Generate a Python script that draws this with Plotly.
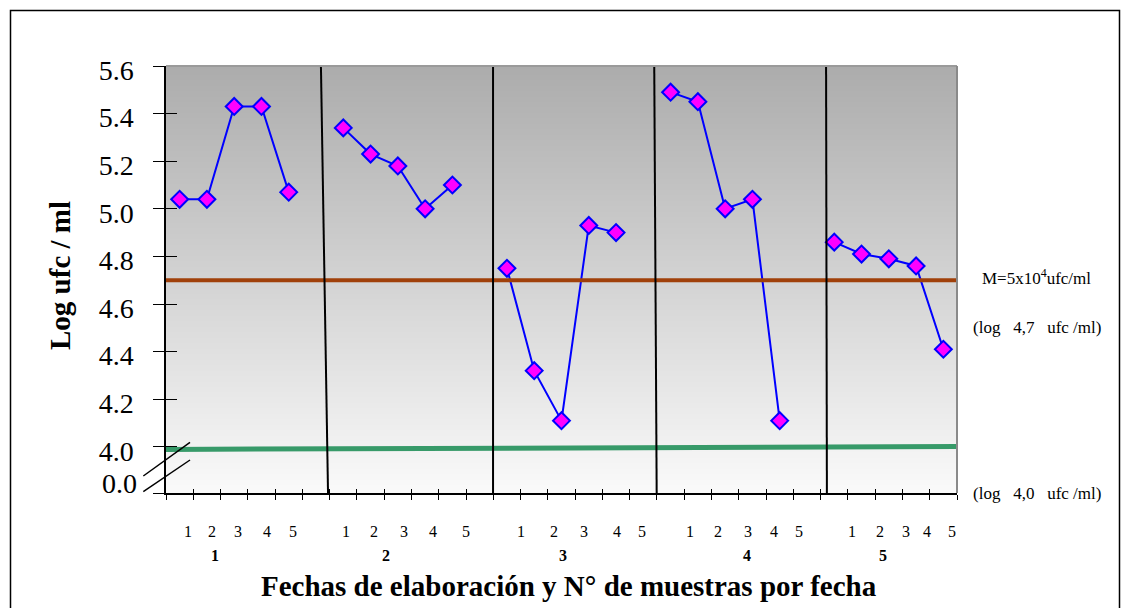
import numpy as np
import plotly.graph_objects as go

# ---------------- data ----------------
fechas = ["1", "2", "3", "4", "5"]
muestras = ["1", "2", "3", "4", "5"]
fecha1 = [5.04, 5.04, 5.43, 5.43, 5.07]
fecha2 = [5.34, 5.23, 5.18, 5.00, 5.10]
fecha3 = [4.75, 4.32, 4.11, 4.93, 4.90]
fecha4 = [5.49, 5.45, 5.00, 5.04, 4.11]
fecha5 = [4.86, 4.81, 4.79, 4.76, 4.41]
limite_M = 4.7      # log 4,7 ufc/ml
limite_m = 4.0      # log 4,0 ufc/ml
y_ticks = [4.0, 4.2, 4.4, 4.6, 4.8, 5.0, 5.2, 5.4, 5.6]
y_ticktext = ["4.0", "4.2", "4.4", "4.6", "4.8", "5.0", "5.2", "5.4", "5.6"]

# ---------------- layout constants ----------------
W, H = 1122, 608
L, R, T, B = 166, 1122 - 957, 66, 608 - 493
PW, PH = W - L - R, H - T - B
Y_BOTTOM = 3.806          # value at the broken axis bottom ("0.0")
Y_TOP = 5.6
GROUP_SIZE = 6            # 5 samples + 1 blank slot
NCAT = 29
FONT = "Liberation Serif, Times New Roman, serif"
NB = "\u00a0"


def px_x(p):
    return (p - L) / PW


def px_y(p):
    return (H - B - p) / PH


series = [fecha1, fecha2, fecha3, fecha4, fecha5]
xs, ys = [], []
for g, vals in enumerate(series):
    for s, v in enumerate(vals):
        xs.append(g * GROUP_SIZE + s)
        ys.append(v)
    if g < len(series) - 1:
        xs.append(g * GROUP_SIZE + 5)
        ys.append(None)

fig = go.Figure()

# background gradient (grey top -> white bottom)
gy = np.linspace(3.7, 5.7, 160)
fig.add_trace(go.Heatmap(
    x=[-0.5, NCAT - 0.5], y=gy, z=[[v, v] for v in gy],
    zmin=Y_BOTTOM, zmax=Y_TOP, zsmooth="best",
    colorscale=[[0, "#fafafa"], [1, "#acacac"]],
    showscale=False, hoverinfo="skip"))

# dummy trace on overlay axes (inside ticks)
fig.add_trace(go.Scatter(x=[0], y=[5], xaxis="x2", yaxis="y2",
                         mode="markers", marker=dict(opacity=0),
                         hoverinfo="skip", showlegend=False))

# data line
fig.add_trace(go.Scatter(
    x=xs, y=ys, mode="lines+markers", connectgaps=False,
    line=dict(color="#0000ff", width=2),
    marker=dict(symbol="diamond", size=13, color="#ff00ff",
                line=dict(color="#0000ff", width=2)),
    showlegend=False))

shapes = []
# limit lines
shapes.append(dict(type="line", xref="x", yref="y", x0=-0.5, x1=NCAT - 0.5,
                   y0=limite_M, y1=limite_M,
                   line=dict(color="#a0400a", width=4)))
shapes.append(dict(type="line", xref="x", yref="y", x0=-0.65, x1=NCAT - 0.5,
                   y0=limite_m - 0.011, y1=limite_m + 0.001,
                   line=dict(color="#379a69", width=5)))
# group separators (hand drawn in original)
separators = [(5.18, 5.44), (11.49, 11.49), (17.40, 17.49), (23.70, 23.73)]
for x_top, x_bot in separators:
    shapes.append(dict(type="line", xref="x", yref="y", x0=x_top, x1=x_bot,
                       y0=Y_TOP, y1=Y_BOTTOM,
                       line=dict(color="black", width=2)))
# plot area top/right border (grey)
shapes.append(dict(type="line", xref="paper", yref="paper", x0=0, x1=1, y0=1, y1=1,
                   line=dict(color="#9a9a9a", width=2)))
shapes.append(dict(type="line", xref="paper", yref="paper", x0=1, x1=1, y0=0, y1=1,
                   line=dict(color="#8a8a8a", width=2)))
# axis break marks
for (a, b, c, d) in [(143.3, 476, 190, 442.3), (143.3, 491.7, 190, 460)]:
    shapes.append(dict(type="line", xref="paper", yref="paper",
                       x0=px_x(a), y0=px_y(b), x1=px_x(c), y1=px_y(d),
                       line=dict(color="black", width=1.5)))
# outer frame
shapes.append(dict(type="rect", xref="paper", yref="paper",
                   x0=px_x(10.5), x1=px_x(1119.5), y0=px_y(10.5), y1=px_y(640),
                   line=dict(color="black", width=1.5)))

annotations = []


def note(x, y, text, size, xref="paper", xanchor="center", angle=0):
    annotations.append(dict(x=x, y=y, xref=xref, yref="paper", text=text,
                            showarrow=False, xanchor=xanchor, yanchor="middle",
                            textangle=angle,
                            font=dict(family=FONT, size=size, color="black")))


# sample labels under each date
sample_pos = [
    [0.32, 1.18, 2.15, 3.21, 4.15],
    [6.10, 7.14, 8.24, 9.30, 10.50],
    [12.50, 13.72, 14.82, 16.02, 16.96],
    [18.71, 19.75, 20.85, 21.79, 22.72],
    [24.64, 25.68, 26.63, 27.39, 28.31],
]
group_pos = [1.30, 7.57, 14.07, 20.79, 25.80]
for g, fecha in enumerate(fechas):
    for s, m in enumerate(muestras):
        note(sample_pos[g][s], px_y(531.5), m, 16, xref="x")
    note(group_pos[g], px_y(555), "<b>" + fecha + "</b>", 16, xref="x")

note(px_x(569), px_y(586), "<b>Fechas de elaboración y N° de muestras por fecha</b>", 29)
note(px_x(60), px_y(276), "<b>Log ufc / ml</b>", 29, angle=-90)
note(px_x(139), px_y(483), "0.0", 28, xanchor="right")
note(px_x(1036), px_y(277), "M=5x10<sup>4</sup>ufc/ml", 17)
note(px_x(1037), px_y(327), "(log" + NB * 2 + " 4,7" + NB * 2 + " ufc" + NB + "/ml)", 17)
note(px_x(1037), px_y(493), "(log" + NB * 2 + " 4,0" + NB * 2 + " ufc" + NB + "/ml)", 17)

xtick_vals = [k - 0.5 for k in range(NCAT + 1)]
ytick_vals = [Y_BOTTOM] + y_ticks
ytick_text = [""] + y_ticktext

fig.update_layout(
    width=W, height=H,
    margin=dict(l=L, r=R, t=T, b=B, pad=0),
    paper_bgcolor="white", plot_bgcolor="white",
    showlegend=False,
    xaxis=dict(range=[-0.5, NCAT - 0.5], tickmode="array", tickvals=xtick_vals,
               ticktext=[""] * len(xtick_vals), ticks="outside", ticklen=5,
               tickcolor="black", tickwidth=1, showgrid=False, zeroline=False,
               showline=True, linecolor="black", linewidth=1.5, fixedrange=True),
    yaxis=dict(range=[Y_BOTTOM, Y_TOP], tickmode="array", tickvals=ytick_vals,
               ticktext=ytick_text, ticks="outside", ticklen=11, tickcolor="black",
               tickwidth=1, ticklabelstandoff=14, ticklabelshift=4,
               tickfont=dict(family=FONT, size=28, color="black"),
               showgrid=False, zeroline=False, showline=True, linecolor="black",
               linewidth=1.5, fixedrange=True),
    xaxis2=dict(overlaying="x", range=[-0.5, NCAT - 0.5], tickmode="array",
                tickvals=xtick_vals, showticklabels=False, ticks="inside", ticklen=4,
                tickcolor="black", showgrid=False, zeroline=False, showline=False,
                side="bottom", fixedrange=True),
    yaxis2=dict(overlaying="y", range=[Y_BOTTOM, Y_TOP], tickmode="array",
                tickvals=ytick_vals, showticklabels=False, ticks="inside", ticklen=11,
                tickcolor="black", showgrid=False, zeroline=False, showline=False,
                side="left", fixedrange=True),
    shapes=shapes,
    annotations=annotations,
)

fig.write_html("out.html")
